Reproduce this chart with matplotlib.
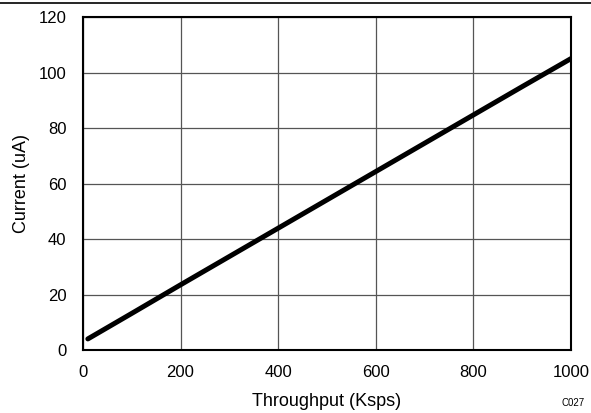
import matplotlib
matplotlib.use("Agg")
import matplotlib.pyplot as plt
from matplotlib.lines import Line2D

plt.rcParams["font.family"] = ["Liberation Sans", "DejaVu Sans"]

# Data
throughput = [10, 100, 200, 300, 400, 500, 600, 700, 800, 900, 1000]
current = [4.0, 13.2, 23.5, 33.7, 43.9, 54.1, 64.3, 74.5, 84.7, 94.9, 105.0]
xticks = [0, 200, 400, 600, 800, 1000]
yticks = [0, 20, 40, 60, 80, 100, 120]

fig = plt.figure(figsize=(5.91, 4.13), dpi=100)
ax = fig.add_axes([0.1404, 0.1525, 0.8256, 0.8063])

ax.plot(throughput, current, color="black", linewidth=3.6, solid_capstyle="round")

ax.set_xlim(0, 1000)
ax.set_ylim(0, 120)
ax.set_xticks(xticks)
ax.set_yticks(yticks)
ax.tick_params(length=0, labelsize=12)
ax.tick_params(axis="x", pad=11)
ax.tick_params(axis="y", pad=12)
ax.grid(True, color="#555555", linewidth=0.9)
ax.set_axisbelow(True)
for s in ax.spines.values():
    s.set_linewidth(1.5)
    s.set_color("black")

ax.set_xlabel("Throughput (Ksps)", fontsize=13, labelpad=9)
ax.set_ylabel("Current (uA)", fontsize=13, labelpad=6)

# separator line across the top and figure code
fig.add_artist(Line2D([0, 1], [0.992, 0.992], color="black", linewidth=1.2,
                      transform=fig.transFigure))
fig.text(0.99, 0.025, "C027", fontsize=7, ha="right", va="center")

fig.savefig("out.png", dpi=100)
